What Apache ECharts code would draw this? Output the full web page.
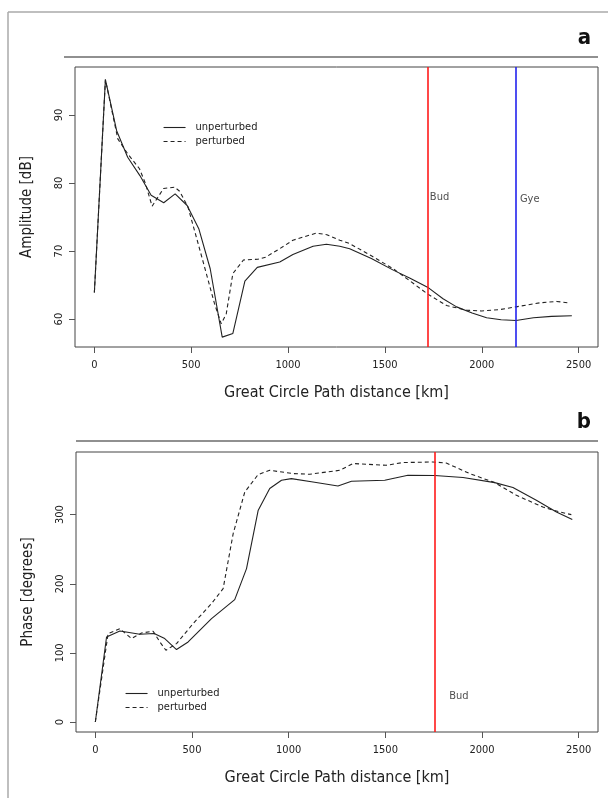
<!DOCTYPE html>
<html>
<head>
<meta charset="utf-8">
<script src="https://cdn.jsdelivr.net/npm/echarts@6/dist/echarts.min.js"></script>
<style>
  html, body { margin: 0; padding: 0; background: #fff; }
  #chart { width: 608px; height: 798px; }
</style>
</head>
<body>
<div id="chart"></div>
<script>
// panel a: amplitude
var ampDist = [0, 57, 115, 172, 235, 293, 358, 417, 479, 539, 598, 660, 715, 777, 841, 957, 1025, 1129, 1198, 1267, 1318, 1430, 1543, 1630, 1720, 1800, 1870, 1950, 2025, 2100, 2177, 2267, 2360, 2465];
var ampUnpert = [63.9, 95.2, 87.7, 83.8, 81.1, 78.2, 77.1, 78.4, 76.7, 73.3, 67.4, 57.35, 57.9, 65.6, 67.6, 68.4, 69.5, 70.7, 71.0, 70.7, 70.35, 68.9, 67.2, 66.0, 64.7, 63.0, 61.8, 60.9, 60.2, 59.9, 59.8, 60.2, 60.4, 60.5];
var ampDistP = [0, 57, 121, 172, 233, 264, 298, 357, 414, 440, 483, 526, 578, 620, 655, 681, 715, 770, 844, 884, 957, 1025, 1146, 1200, 1267, 1318, 1430, 1543, 1630, 1720, 1818, 1922, 2000, 2094, 2177, 2301, 2387, 2456];
var ampPert = [63.9, 95.2, 86.5, 84.3, 82.1, 79.9, 76.6, 79.2, 79.4, 78.8, 76.5, 72.1, 66.7, 62.3, 59.3, 60.8, 66.7, 68.7, 68.8, 69.1, 70.35, 71.6, 72.65, 72.4, 71.6, 71.1, 69.3, 67.4, 65.6, 63.7, 62.0, 61.3, 61.2, 61.4, 61.8, 62.4, 62.6, 62.35];

// panel b: phase
var phaseDist = [0, 58, 127, 230, 304, 359, 420, 480, 601, 721, 782, 842, 902, 963, 1014, 1126, 1255, 1325, 1497, 1617, 1755, 1902, 2066, 2160, 2281, 2385, 2467];
var phaseUnpert = [0, 123, 131.7, 127, 128, 120.7, 104.8, 115.8, 149.6, 177, 222, 306, 337.8, 349.8, 352.2, 347.3, 341.5, 348.3, 349.8, 357, 356.6, 353.7, 346.4, 339.2, 320.8, 303.9, 292.9];
var phaseDistP = [0, 66, 127, 187, 239, 299, 334, 365, 420, 506, 601, 661, 713, 773, 842, 902, 1023, 1109, 1264, 1333, 1505, 1591, 1746, 1815, 1936, 2066, 2178, 2315, 2402, 2462];
var phasePert = [0, 128, 135, 120.7, 128.8, 131.3, 115.8, 103.8, 113.4, 142.4, 171.3, 193, 272.6, 332.8, 358, 364.2, 359.5, 358.5, 364.2, 374, 371.5, 375.4, 376.3, 374.8, 359.5, 346.4, 328, 311, 303.9, 300.1];

// stations
var stationsA = ['Bud', 'Gye'];
var stationDistA = [1720, 2177];
var stationColorA = ['#ff1a1a', '#2222ee'];
var stationLabelA = [[1732, 77.9], [2197, 77.7]];
var stationsB = ['Bud'];
var stationDistB = [1757];
var stationLabelB = [[1830, 37]];

// ticks
var xTicks = [0, 500, 1000, 1500, 2000, 2500];
var ampTicks = [60, 70, 80, 90];
var phaseTicks = [0, 100, 200, 300];

var FONT = "'Liberation Sans Narrow', 'DejaVu Sans Condensed', sans-serif";

function pairs(xs, ys) {
  var out = [];
  for (var i = 0; i < xs.length; i++) out.push([xs[i], ys[i]]);
  return out;
}

function plain(v) { return String(v); }

function xAxisFor(idx) {
  return {
    type: 'value', gridIndex: idx, min: -100, max: 2600, position: 'bottom',
    name: 'Great Circle Path distance [km]', nameLocation: 'middle', nameGap: 38,
    nameTextStyle: { fontFamily: FONT, fontSize: 16, color: '#222' },
    axisLine: { show: false, onZero: false },
    splitLine: { show: false },
    axisTick: { show: true, length: 6, lineStyle: { color: '#555' }, customValues: xTicks },
    axisLabel: { fontFamily: FONT, fontSize: 11, color: '#222', margin: 13, customValues: xTicks, formatter: plain }
  };
}

function yAxisFor(idx, min, max, ticks, name) {
  return {
    type: 'value', gridIndex: idx, min: min, max: max, position: 'left',
    name: name, nameLocation: 'middle', nameGap: 40, nameRotate: 90,
    nameTextStyle: { fontFamily: FONT, fontSize: 15, color: '#222' },
    axisLine: { show: false, onZero: false },
    splitLine: { show: false },
    axisTick: { show: true, length: 6, lineStyle: { color: '#555' }, customValues: ticks },
    axisLabel: { fontFamily: FONT, fontSize: 11, color: '#222', margin: 10, rotate: 90, customValues: ticks, formatter: plain }
  };
}

function vlines(dists, colors) {
  var d = [];
  for (var i = 0; i < dists.length; i++) {
    d.push({ xAxis: dists[i], lineStyle: { color: colors[i], width: 1.6, type: 'solid' } });
  }
  return { silent: true, symbol: ['none', 'none'], label: { show: false }, animation: false, data: d };
}

function labelSeries(idx, names, coords) {
  var d = [];
  for (var i = 0; i < names.length; i++) d.push({ value: coords[i], name: names[i] });
  return {
    type: 'scatter', xAxisIndex: idx, yAxisIndex: idx, symbolSize: 0, silent: true,
    data: d,
    label: { show: true, position: 'right', distance: 0, formatter: '{b}', fontFamily: FONT, fontSize: 11, color: '#222' }
  };
}

function legendAt(left, top) {
  return {
    orient: 'vertical', left: left, top: top, itemWidth: 22, itemHeight: 10, itemGap: 3,
    data: ['unperturbed', 'perturbed'],
    itemStyle: { opacity: 0 },
    lineStyle: { width: 1.1 },
    textStyle: { fontFamily: FONT, fontSize: 11, color: '#222', padding: [0, 0, 0, 5] }
  };
}

var myChart = echarts.init(document.getElementById('chart'), null, { renderer: 'canvas' });

var option = {
  backgroundColor: '#ffffff',
  animation: false,
  title: [
    { text: 'a', right: 12, top: 22, textStyle: { fontFamily: FONT, fontSize: 22, fontWeight: 'bold', color: '#111' } },
    { text: 'b', right: 12, top: 406, textStyle: { fontFamily: FONT, fontSize: 22, fontWeight: 'bold', color: '#111' } }
  ],
  graphic: [
    { type: 'line', shape: { x1: 8, y1: 12, x2: 608, y2: 12 }, style: { stroke: '#aaa', lineWidth: 1.5 } },
    { type: 'line', shape: { x1: 8, y1: 12, x2: 8, y2: 798 }, style: { stroke: '#aaa', lineWidth: 1.5 } },
    { type: 'line', shape: { x1: 64, y1: 57, x2: 598, y2: 57 }, style: { stroke: '#222', lineWidth: 1.2 } },
    { type: 'line', shape: { x1: 76, y1: 441, x2: 598, y2: 441 }, style: { stroke: '#222', lineWidth: 1.2 } }
  ],
  legend: [legendAt(158, 117), legendAt(120, 683)],
  grid: [
    { left: 75, top: 67, width: 523, height: 280, show: true, borderColor: '#444', borderWidth: 1, backgroundColor: 'transparent' },
    { left: 76, top: 452, width: 522, height: 280, show: true, borderColor: '#444', borderWidth: 1, backgroundColor: 'transparent' }
  ],
  xAxis: [xAxisFor(0), xAxisFor(1)],
  yAxis: [
    yAxisFor(0, 55.9, 97.06, ampTicks, 'Amplitude [dB]'),
    yAxisFor(1, -14.5, 390.7, phaseTicks, 'Phase [degrees]')
  ],
  series: [
    {
      name: 'unperturbed', type: 'line', xAxisIndex: 0, yAxisIndex: 0, symbol: 'none',
      lineStyle: { color: '#222', width: 1.1, type: 'solid' }, itemStyle: { color: '#222' },
      data: pairs(ampDist, ampUnpert),
      markLine: vlines(stationDistA, stationColorA)
    },
    {
      name: 'perturbed', type: 'line', xAxisIndex: 0, yAxisIndex: 0, symbol: 'none',
      lineStyle: { color: '#222', width: 1.1, type: [4, 3] }, itemStyle: { color: '#222' },
      data: pairs(ampDistP, ampPert)
    },
    labelSeries(0, stationsA, stationLabelA),
    {
      name: 'unperturbed', type: 'line', xAxisIndex: 1, yAxisIndex: 1, symbol: 'none',
      lineStyle: { color: '#222', width: 1.1, type: 'solid' }, itemStyle: { color: '#222' },
      data: pairs(phaseDist, phaseUnpert),
      markLine: vlines(stationDistB, ['#ff1a1a'])
    },
    {
      name: 'perturbed', type: 'line', xAxisIndex: 1, yAxisIndex: 1, symbol: 'none',
      lineStyle: { color: '#222', width: 1.1, type: [4, 3] }, itemStyle: { color: '#222' },
      data: pairs(phaseDistP, phasePert)
    },
    labelSeries(1, stationsB, stationLabelB)
  ]
};

if (option && typeof option === 'object') {
  myChart.setOption(option);
}
</script>
</body>
</html>
